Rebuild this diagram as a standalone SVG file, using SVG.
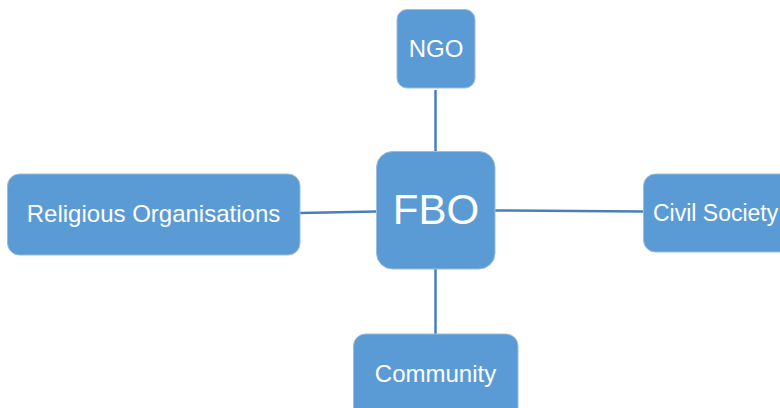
<svg xmlns="http://www.w3.org/2000/svg" width="780" height="408" viewBox="0 0 780 408">
<style>
.box{fill:#5B9BD5;stroke:#9DBBDC;stroke-width:1}
.lbl{font-family:"Liberation Sans",Arial,sans-serif;font-size:24px;fill:#FFFFFF}
.c{text-anchor:middle}
.conn{stroke:#4A7EBB;stroke-width:2.5;fill:none}
</style>
<rect width="780" height="408" fill="#FFFFFF"/>
<g id="connectors">
<line class="conn" x1="435.5" y1="90" x2="435.5" y2="151"/>
<line class="conn" x1="300" y1="213" x2="376" y2="211.5"/>
<line class="conn" x1="495" y1="210.5" x2="643" y2="211.5"/>
<line class="conn" x1="435.5" y1="269" x2="435.5" y2="334"/>
</g>
<g id="ngo">
<rect class="box" x="397" y="9.5" width="78" height="78.5" rx="10"/>
<text class="lbl c" x="436" y="57">NGO</text>
</g>
<g id="fbo">
<rect class="box" x="376.5" y="151.5" width="118.5" height="117.5" rx="16"/>
<text class="lbl c" x="436" y="224" style="font-size:42px">FBO</text>
</g>
<g id="religious">
<rect class="box" x="7.5" y="174" width="292.5" height="81" rx="12"/>
<text class="lbl c" x="153.5" y="222">Religious Organisations</text>
</g>
<g id="civil">
<rect class="box" x="643.5" y="174" width="160" height="78" rx="12"/>
<text class="lbl" x="653" y="221" style="font-size:23px">Civil Society</text>
</g>
<g id="community">
<rect class="box" x="353.5" y="334" width="164.5" height="90" rx="12"/>
<text class="lbl c" x="435.5" y="382">Community</text>
</g>
</svg>
